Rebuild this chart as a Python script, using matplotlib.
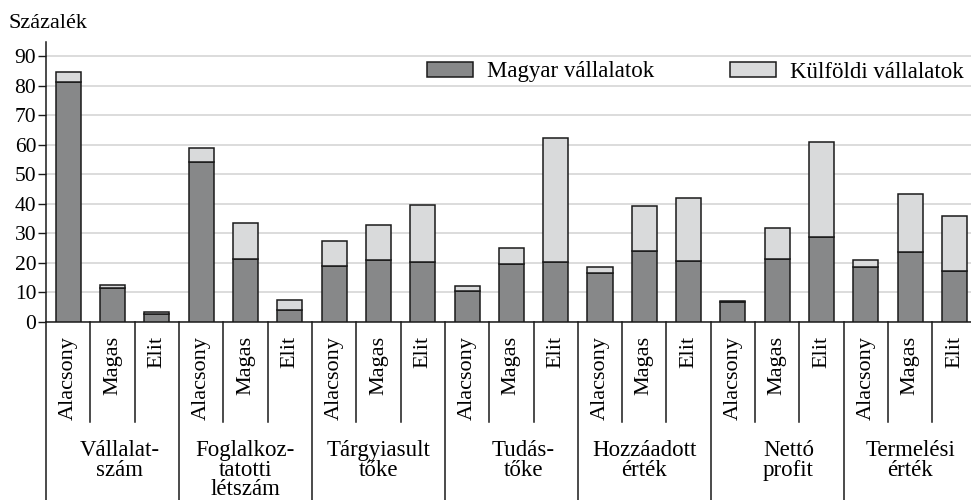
import numpy as np
import matplotlib
matplotlib.use("Agg")
import matplotlib.pyplot as plt
from matplotlib.transforms import blended_transform_factory

# ---- data ----
groups = ["Vállalat-\nszám", "Foglalkoz-\ntatotti\nlétszám", "Tárgyiasult\ntőke",
          "Tudás-\ntőke", "Hozzáadott\nérték", "Nettó\nprofit", "Termelési\nérték"]
levels = ["Alacsony", "Magas", "Elit"]
magyar = [81.2, 11.4, 2.7, 54.1, 21.4, 3.9, 19.0, 21.1, 20.3, 10.3, 19.6, 20.3,
          16.6, 23.9, 20.7, 6.7, 21.3, 28.8, 18.7, 23.7, 17.1]
kulfoldi = [3.4, 1.2, 0.6, 4.9, 12.2, 3.5, 8.4, 11.8, 19.4, 1.9, 5.5, 41.9,
            2.1, 15.4, 21.2, 0.4, 10.6, 32.0, 2.3, 19.6, 18.7]
series_names = ["Magyar vállalatok", "Külföldi vállalatok"]
yticks = [0, 10, 20, 30, 40, 50, 60, 70, 80, 90]
ylabel = "Százalék"

# ---- style ----
FONT = "Liberation Serif"
plt.rcParams["font.family"] = [FONT, "DejaVu Serif"]
DARK = "#878889"
LIGHT = "#d9dadb"
EDGE = "#1a1a1a"
GRID = "#d9d9d9"
group_label_dx = [0.16, 0.0, 0.0, 0.27, 0.0, 0.25, 0.0]

W, H = 971, 500
fig = plt.figure(figsize=(W / 100, H / 100), dpi=100)
ax = fig.add_axes([46 / W, 178.3 / H, 930.7 / W, 280 / H])

n = len(magyar)
x = np.arange(n)
bw = 0.565
ax.bar(x, magyar, width=bw, color=DARK, edgecolor=EDGE, linewidth=1.1,
       label=series_names[0], zorder=3)
ax.bar(x, kulfoldi, width=bw, bottom=magyar, color=LIGHT, edgecolor=EDGE,
       linewidth=1.1, label=series_names[1], zorder=3)

ax.set_xlim(-0.5, n - 0.5)
ax.set_ylim(0, 95)
ax.set_yticks(yticks)
ax.set_yticklabels([str(v) for v in yticks], fontsize=15.5)
ax.tick_params(axis="y", length=6, width=1, color=EDGE, pad=1)
ax.set_xticks([])
for s in ["top", "right"]:
    ax.spines[s].set_visible(False)
for s in ["left", "bottom"]:
    ax.spines[s].set_color(EDGE)
    ax.spines[s].set_linewidth(1.1)
ax.grid(axis="y", color=GRID, linewidth=1.3, zorder=0)
ax.set_axisbelow(True)

# category separators and labels below the axis
trans = blended_transform_factory(ax.transData, ax.transAxes)
ngroups = len(groups)
nlev = len(levels)
for g in range(ngroups):
    left = g * nlev - 0.5
    ax.plot([left, left], [0, -0.64], transform=trans, color=EDGE,
            linewidth=1.1, clip_on=False)
    for k in range(1, nlev):
        xs = left + k
        ax.plot([xs, xs], [0, -0.357], transform=trans, color=EDGE,
                linewidth=1.1, clip_on=False)
    for k in range(nlev):
        ax.text(g * nlev + k, -0.051, levels[k], transform=trans, rotation=90,
                ha="center", va="top", fontsize=16)
    ax.text(g * nlev + 1 + group_label_dx[g], -0.423, groups[g], transform=trans,
            ha="center", va="top", fontsize=16.5, linespacing=0.9,
            multialignment="center")

fig.text(8 / W, 1 - 27.7 / H, ylabel, fontsize=16, ha="left", va="baseline")

fs = 16.5
px = fs / 0.72
ax.legend(ncol=2, frameon=False, fontsize=fs, loc="center left",
          bbox_to_anchor=(426.7 / W, 1 - 72 / H), bbox_transform=fig.transFigure,
          borderpad=0, borderaxespad=0, handlelength=46 / px,
          handleheight=15 / px, handletextpad=14.7 / px, columnspacing=75 / px)

fig.savefig("out.png", dpi=100)
